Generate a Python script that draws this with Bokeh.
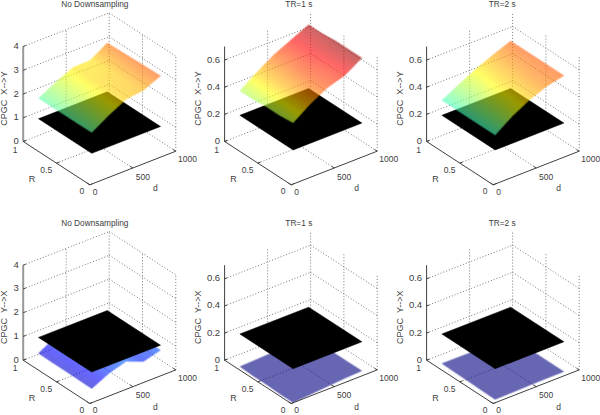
import numpy as np
from bokeh.plotting import figure
from bokeh.models import Range1d
from bokeh.embed import file_html
from bokeh.resources import INLINE

W, H = 600, 415

d_values = [100, 300, 500, 700, 900]
R_values = [0.1, 0.3, 0.5, 0.7, 0.9]
d_ticks = [0, 500, 1000]
d_tick_labels = ["0", "500", "1000"]
R_ticks = [0, 0.5, 1]
R_tick_labels = ["0", "0.5", "1"]
z_ticks_large = [0, 1, 2, 3, 4]
z_tick_labels_large = ["0", "1", "2", "3", "4"]
z_ticks_small = [0, 0.2, 0.4, 0.6]
z_tick_labels_small = ["0", "0.2", "0.4", "0.6"]
titles = ["No Downsampling", "TR=1 s", "TR=2 s"]
threshold_large = 1.0
threshold_small = 0.2

# rows: R = 0.1 ... 0.9, columns: d = 100 ... 900
xy_none = [[1.88, 2.33, 2.71, 2.80, 3.13],
           [1.87, 2.31, 2.68, 2.76, 3.12],
           [1.87, 2.29, 2.65, 2.72, 3.10],
           [1.86, 2.27, 2.62, 2.66, 3.08],
           [1.86, 2.25, 2.59, 2.61, 3.06]]
xy_tr1 = [[0.40, 0.49, 0.56, 0.60, 0.68],
          [0.39, 0.49, 0.56, 0.60, 0.68],
          [0.39, 0.48, 0.56, 0.61, 0.68],
          [0.38, 0.48, 0.55, 0.61, 0.67],
          [0.38, 0.47, 0.55, 0.61, 0.67]]
xy_tr2 = [[0.31, 0.40, 0.47, 0.52, 0.55],
          [0.31, 0.39, 0.46, 0.52, 0.55],
          [0.31, 0.39, 0.46, 0.51, 0.55],
          [0.31, 0.38, 0.45, 0.51, 0.55],
          [0.31, 0.38, 0.445, 0.50, 0.55]]
yx_none = [[0.30, 0.66, 0.88, 0.59, 0.79],
           [0.31, 0.68, 0.85, 0.65, 0.78],
           [0.32, 0.70, 0.82, 0.70, 0.77],
           [0.32, 0.72, 0.80, 0.72, 0.76],
           [0.33, 0.75, 0.80, 0.74, 0.75]]
yx_tr1 = [[-0.05, -0.04, -0.03, -0.02, -0.014],
          [-0.05, -0.04, -0.03, -0.02, -0.015],
          [-0.045, -0.04, -0.03, -0.02, -0.015],
          [-0.045, -0.04, -0.03, -0.02, -0.015],
          [-0.04, -0.035, -0.03, -0.02, -0.015]]
yx_tr2 = [[-0.027, -0.025, -0.022, -0.02, -0.02],
          [-0.025, -0.023, -0.02, -0.02, -0.02],
          [-0.022, -0.02, -0.02, -0.02, -0.02],
          [-0.02, -0.02, -0.02, -0.02, -0.02],
          [-0.017, -0.018, -0.02, -0.02, -0.02]]

YLAB_XY = "CPGC\u00a0\u00a0X-->Y"
YLAB_YX = "CPGC\u00a0\u00a0Y-->X"

panels = [
    (0, 0, titles[0], YLAB_XY, xy_none, 4.0, threshold_large, z_ticks_large, z_tick_labels_large),
    (0, 1, titles[1], YLAB_XY, xy_tr1, 0.7, threshold_small, z_ticks_small, z_tick_labels_small),
    (0, 2, titles[2], YLAB_XY, xy_tr2, 0.7, threshold_small, z_ticks_small, z_tick_labels_small),
    (1, 0, titles[0], YLAB_YX, yx_none, 4.0, threshold_large, z_ticks_large, z_tick_labels_large),
    (1, 1, titles[1], YLAB_YX, yx_tr1, 0.7, threshold_small, z_ticks_small, z_tick_labels_small),
    (1, 2, titles[2], YLAB_YX, yx_tr2, 0.7, threshold_small, z_ticks_small, z_tick_labels_small),
]

# layout of the oblique view, in page pixels
OX = [89.3, 290.7, 492.7]
OY = [184.3, 403.0]
DV = (86.0, -33.6)
RV = (-66.6, -43.3)
ZLEN = 95.0
TITLE_X = [94.3, 298.3, 501.7]
TITLE_Y = [3.7, 222.7]
YLAB_X = [3.9, 197.0, 399.5]

FONT = "Liberation Sans"
TXT = "#404040"
ALPHA = 0.6


def jet(t):
    t = np.clip(t, 0, 1)
    r = np.clip(np.minimum(4 * t - 1.5, -4 * t + 4.5), 0, 1)
    g = np.clip(np.minimum(4 * t - 0.5, -4 * t + 3.5), 0, 1)
    b = np.clip(np.minimum(4 * t + 0.5, -4 * t + 2.5), 0, 1)
    return r, g, b


p = figure(width=W, height=H, x_range=Range1d(0, W), y_range=Range1d(0, H),
           toolbar_location=None, output_backend="svg", min_border=0,
           background_fill_color="white",
           border_fill_color="white", outline_line_color=None)
p.xaxis.visible = False
p.yaxis.visible = False
p.grid.visible = False


def make_proj(row, col, zmax):
    ox, oy = OX[col], OY[row]

    def proj(d, r, z):
        d = np.asarray(d, float) / 1000.0
        r = np.asarray(r, float)
        z = np.asarray(z, float) / zmax
        return ox + d * DV[0] + r * RV[0], oy + d * DV[1] + r * RV[1] - z * ZLEN
    return proj


def seg(proj, a, b):
    x, y = proj([a[0], b[0]], [a[1], b[1]], [a[2], b[2]])
    return list(x), list(H - y)


def lines(segs, **kw):
    p.multi_line([s[0] for s in segs], [s[1] for s in segs], **kw)


def texts(xs, ys, labels, size="8.5px", align="center", angle=0.0):
    p.text(xs, [H - v for v in ys], text=labels, text_font={"value": FONT},
           text_font_size={"value": size}, text_color=TXT, text_align=align,
           text_baseline="middle", angle=angle)


def surface_samples(grid):
    zarr = np.array(grid, float)
    n = 900
    du = np.linspace(0, len(d_values) - 1, n)
    ru = np.linspace(0, len(R_values) - 1, n)
    U, V = np.meshgrid(du, ru)
    iu = np.clip(U.astype(int), 0, len(d_values) - 2)
    iv = np.clip(V.astype(int), 0, len(R_values) - 2)
    fu, fv = U - iu, V - iv
    Z = (zarr[iv, iu] * (1 - fu) * (1 - fv) + zarr[iv, iu + 1] * fu * (1 - fv)
         + zarr[iv + 1, iu] * (1 - fu) * fv + zarr[iv + 1, iu + 1] * fu * fv)
    D = np.interp(U, np.arange(len(d_values)), d_values)
    R = np.interp(V, np.arange(len(R_values)), R_values)
    return D, R, Z


for row, col, title, ylabel, grid, zmax, thr, zt, ztl in panels:
    proj = make_proj(row, col, zmax)

    # walls and floor grid
    g = []
    for z in zt:
        g.append(seg(proj, (0, 1, z), (1000, 1, z)))
        g.append(seg(proj, (1000, 1, z), (1000, 0, z)))
    top = zmax
    g.append(seg(proj, (500, 1, 0), (500, 1, top)))
    g.append(seg(proj, (1000, 1, 0), (1000, 1, top)))
    g.append(seg(proj, (1000, 0.5, 0), (1000, 0.5, top)))
    g.append(seg(proj, (1000, 0, 0), (1000, 0, top)))
    g.append(seg(proj, (500, 0, 0), (500, 1, 0)))
    g.append(seg(proj, (0, 0.5, 0), (1000, 0.5, 0)))
    lines(g, line_color="#777777", line_width=1, line_dash="1 2")

    # threshold plane
    cx, cy = proj([d_values[0], d_values[0], d_values[-1], d_values[-1]],
                  [R_values[0], R_values[-1], R_values[-1], R_values[0]], [thr] * 4)

    def draw_plane():
        p.patch(list(cx), list(H - cy), fill_color="black", line_color="black", line_width=0.5)

    # surface: interpolated jet colours, translucent
    D, R, Z = surface_samples(grid)
    sx, sy = proj(D, R, Z)
    x0 = int(np.floor(sx.min())) - 1
    y0 = int(np.floor(sy.min())) - 1
    x1 = int(np.ceil(sx.max())) + 1
    y1 = int(np.ceil(sy.max())) + 1
    ss = 4
    w, h = x1 - x0, y1 - y0
    cov = np.zeros((h * ss, w * ss))
    rr = np.zeros_like(cov)
    gg = np.zeros_like(cov)
    bb = np.zeros_like(cov)
    ix = np.clip(((sx - x0) * ss).astype(int), 0, w * ss - 1)
    iy = np.clip(((sy - y0) * ss).astype(int), 0, h * ss - 1)
    cr, cg, cb = jet(Z / zmax)
    cov[iy, ix] = 1.0
    rr[iy, ix] = cr
    gg[iy, ix] = cg
    bb[iy, ix] = cb

    def down(a):
        return a.reshape(h, ss, w, ss).mean(axis=(1, 3))

    dc = down(cov)
    safe = np.where(dc > 0, dc, 1)
    img = np.zeros((h, w, 4), dtype=np.uint8)
    img[..., 0] = np.round(255 * down(rr * cov) / safe)
    img[..., 1] = np.round(255 * down(gg * cov) / safe)
    img[..., 2] = np.round(255 * down(bb * cov) / safe)
    img[..., 3] = np.round(255 * ALPHA * dc)
    flat = img[::-1].copy().view(np.uint32).reshape(h, w)

    def draw_surface():
        p.image_rgba(image=[flat], x=x0, y=H - y1, dw=w, dh=h)

    if row == 0:
        draw_plane()
        draw_surface()
    else:
        draw_surface()
        draw_plane()

    # axes
    ax = [seg(proj, (0, 0, 0), (1000, 0, 0)), seg(proj, (0, 0, 0), (0, 1, 0))]
    lines(ax, line_color="#404040", line_width=1)
    zaxis = [seg(proj, (0, 1, 0), (0, 1, zmax))]
    if col == 0:
        lines(zaxis, line_color="#999999", line_width=2)
    else:
        lines(zaxis, line_color="#404040", line_width=1)
    tk = []
    for z in zt:
        tk.append(seg(proj, (0, 1, z), (30, 1, z)))
    for t in R_ticks:
        tk.append(seg(proj, (0, t, 0), (30, t, 0)))
    for t in d_ticks:
        tk.append(seg(proj, (t, 0, 0), (t, 0.04, 0)))
    lines(tk, line_color="#404040", line_width=1)

    # tick labels
    zx, zy = proj([0] * len(zt), [1] * len(zt), zt)
    texts(list(zx - 4.5), list(zy - 0.5), ztl, size="9.5px", align="right")
    rx, ry = proj([0] * 3, R_ticks, [0] * 3)
    texts(list(rx + np.array([-8, -10.3, -8])), list(ry + np.array([6.3, 7, 8])), R_tick_labels, size="8.5px")
    dx, dy = proj(d_ticks, [0] * 3, [0] * 3)
    texts(list(dx + np.array([5.4, 10, 11.6])), list(dy + np.array([6.8, 8.5, 7.6])), d_tick_labels)
    lx, ly = proj([0], [0.5], [0])
    texts([float(lx[0]) - 24.5], [float(ly[0]) + 16], ["R"], size="9px")
    lx, ly = proj([500], [0], [0])
    texts([float(lx[0]) + 22.5], [float(ly[0]) + 20], ["d"], size="8.5px")

    # title and z label
    texts([TITLE_X[col]], [TITLE_Y[row]], [title], size="8.3px")
    texts([YLAB_X[col]], [98.0 + (OY[row] - OY[0])], [ylabel], size="9px", angle=np.pi / 2)

open("out.html", "w").write(file_html(p, INLINE))
